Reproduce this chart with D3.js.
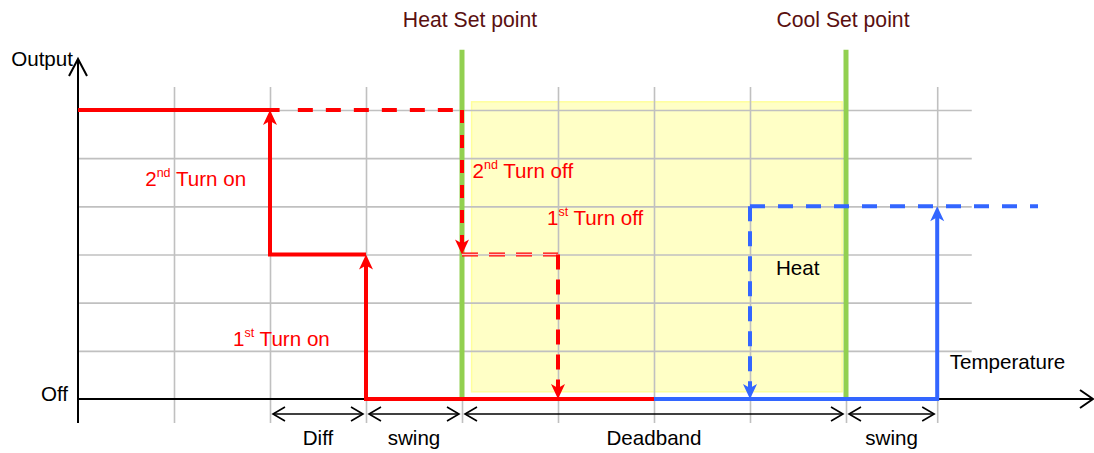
<!DOCTYPE html>
<html>
<head>
<meta charset="utf-8">
<script src="https://cdn.jsdelivr.net/npm/d3@7"></script>
<style>
body { margin: 0; background: #fff; }
text { font-family: "Liberation Sans", Arial, sans-serif; font-size: 20.6px; }
</style>
</head>
<body>
<script>

// grid positions along temperature (x) and output level (y)
var tempTicks = [1, 2, 3, 4, 5, 6, 7, 8, 8.95];
var levelTicks = [1, 2, 3, 4, 5, 6];

var setPoints = [{name: "Heat Set point", t: 4}, {name: "Cool Set point", t: 8}];
var deadband = [4.1, 7.96, 0.15, 6.17]; // t0, t1, level0, level1

// heat stages (red)
var heatFull = [[0, 6], [2.1, 6]];
var heatOn2nd = [[3, 3], [2, 3], [2, 6]];
var heatOn1st = [[6, 0], [3, 0], [3, 3]];
var heatHold2nd = [[2.29, 6], [4, 6]];
var heatOff2nd = [[4, 6], [4, 3]];
var heatHold1st = [[4, 3], [5, 3]];
var heatOff1st = [[5, 3], [5, 0]];

// cool stage (blue)
var coolOn = [[6, 0], [8.95, 0], [8.95, 4]];
var coolHold = [[7, 4], [10, 4]];
var coolOff = [[7, 4], [7, 0]];

// dimension spans under the axis
var spans = [
    {label: "Diff", a: 2, b: 3},
    {label: "swing", a: 3, b: 4},
    {label: "Deadband", a: 4, b: 8},
    {label: "swing", a: 8, b: 8.95}
];

var width = 1094, height = 453;
var RED = "#ff0000", BLUE = "#3366ff", GREEN = "#92d050";

var svg = d3.select("body").append("svg")
    .attr("width", width)
    .attr("height", height);

svg.append("rect").attr("width", width).attr("height", height).attr("fill", "#fff");

var x = d3.scaleLinear().domain([0, 10]).range([78, 1038]);
var y = d3.scaleLinear().domain([0, 6]).range([399, 110]);

// yellow deadband zone
svg.append("rect")
    .attr("x", x(deadband[0]))
    .attr("y", y(deadband[3]))
    .attr("width", x(deadband[1]) - x(deadband[0]))
    .attr("height", y(deadband[2]) - y(deadband[3]))
    .attr("fill", "#ffffc6")
    .attr("stroke", "#ffff9c")
    .attr("stroke-width", 1.5);

// grid: vertical lines
var gx = svg.append("g")
    .attr("transform", "translate(0," + y(-0.5) + ")")
    .call(d3.axisTop(x).tickValues(tempTicks).tickSize(y(-0.5) - y(6.48)).tickFormat(""));
// grid: horizontal lines
var gy = svg.append("g")
    .attr("transform", "translate(" + x(0) + ",0)")
    .call(d3.axisRight(y).tickValues(levelTicks).tickSize(x(9.31) - x(0)).tickFormat(""));
svg.selectAll(".domain").remove();
svg.selectAll(".tick line").attr("stroke", "#c0c0c0").attr("stroke-width", 1.6);

// axes
svg.append("line")
    .attr("x1", x(0)).attr("x2", 1093)
    .attr("y1", y(0)).attr("y2", y(0))
    .attr("stroke", "#000").attr("stroke-width", 2);
svg.append("line")
    .attr("x1", x(0)).attr("x2", x(0))
    .attr("y1", y(-0.5)).attr("y2", 59)
    .attr("stroke", "#000").attr("stroke-width", 2);
svg.append("path")
    .attr("d", "M" + (x(0) - 9) + ",76L" + x(0) + ",59L" + (x(0) + 9) + ",76")
    .attr("fill", "none").attr("stroke", "#000").attr("stroke-width", 2);
svg.append("path")
    .attr("d", "M1080," + (y(0) - 9) + "L1093," + y(0) + "L1080," + (y(0) + 9))
    .attr("fill", "none").attr("stroke", "#000").attr("stroke-width", 2);

// set point lines
svg.selectAll(".setp").data(setPoints).enter().append("line")
    .attr("x1", function (d) { return x(d.t); })
    .attr("x2", function (d) { return x(d.t); })
    .attr("y1", y(7.25))
    .attr("y2", y(0))
    .attr("stroke", GREEN)
    .attr("stroke-width", 5);

svg.selectAll(".setlab").data(setPoints).enter().append("text")
    .attr("x", function (d, i) { return x(d.t) + (i === 0 ? 8 : -3); })
    .attr("y", 27)
    .attr("text-anchor", "middle")
    .attr("fill", "#5a1010")
    .style("font-size", "21.2px")
    .text(function (d) { return d.name; });

// draws a step path in pixel space, optionally with an arrow head on the last point
function step(pts, color, dash, arrow) {
    var p = pts.map(function (d) { return [x(d[0]), y(d[1])]; });
    var n = p.length;
    var tip = p[n - 1].slice();
    if (arrow) {
        var dx = p[n - 1][0] - p[n - 2][0], dy = p[n - 1][1] - p[n - 2][1];
        var len = Math.sqrt(dx * dx + dy * dy);
        p[n - 1] = [tip[0] - dx / len * 9, tip[1] - dy / len * 9];
    }
    svg.append("path")
        .attr("d", d3.line()(p))
        .attr("fill", "none")
        .attr("stroke", color)
        .attr("stroke-width", 4)
        .attr("stroke-dasharray", dash || null)
        .attr("stroke-linejoin", "miter");
    if (arrow) {
        var ang = Math.atan2(tip[1] - p[n - 2][1], tip[0] - p[n - 2][0]) * 180 / Math.PI;
        svg.append("path")
            .attr("d", "M0,0L-15,-7L-11,0L-15,7Z")
            .attr("transform", "translate(" + tip[0] + "," + tip[1] + ") rotate(" + ang + ")")
            .attr("fill", color);
    }
}

step(heatFull, RED);
step(heatOn2nd, RED, null, true);
step(heatOn1st, RED, null, true);
step(heatHold2nd, RED, "15,13");
step(heatOff2nd, RED, "13,12", true);
step(heatHold1st, RED, "16,11");
svg.append("path")
    .attr("d", d3.line()(heatHold1st.map(function (d) { return [x(d[0]), y(d[1])]; })))
    .attr("stroke", "#ffc8c8").attr("stroke-width", 1.4).attr("stroke-dasharray", "16,11");
step(heatOff1st, RED, "15,10", true);

step(coolOn, BLUE, null, true);
step(coolHold, BLUE, "15,13");
step(coolOff, BLUE, "15,10", true);

// red annotations with superscripts
function label(tx, lv, big, sup, rest, color) {
    var t = svg.append("text").attr("x", x(tx)).attr("y", y(lv)).attr("fill", color);
    t.append("tspan").text(big);
    t.append("tspan").attr("font-size", "12.5px").attr("dy", -9).text(sup);
    t.append("tspan").attr("dy", 9).text(" " + rest);
}
label(0.70, 4.42, "2", "nd", "Turn on", RED);
label(4.11, 4.59, "2", "nd", "Turn off", RED);
label(4.885, 3.61, "1", "st", "Turn off", RED);
label(1.615, 1.10, "1", "st", "Turn on", RED);

svg.append("text").attr("x", x(7.27)).attr("y", y(2.57)).text("Heat");
svg.append("text").attr("x", x(9.08)).attr("y", y(0.62)).text("Temperature");
svg.append("text").attr("x", 73).attr("y", 66).attr("text-anchor", "end").text("Output");
svg.append("text").attr("x", 68).attr("y", 401).attr("text-anchor", "end").text("Off");

// dimension arrows
var dim = svg.selectAll(".dim").data(spans).enter().append("g");
dim.append("line")
    .attr("x1", function (d) { return x(d.a) + 3; })
    .attr("x2", function (d) { return x(d.b) - 3; })
    .attr("y1", 414).attr("y2", 414)
    .attr("stroke", "#000").attr("stroke-width", 1.6);
dim.append("path")
    .attr("d", function (d) {
        var a = x(d.a) + 3, b = x(d.b) - 3;
        return "M" + (a + 12) + ",407L" + a + ",414L" + (a + 12) + ",421" +
            "M" + (b - 12) + ",407L" + b + ",414L" + (b - 12) + ",421";
    })
    .attr("fill", "none").attr("stroke", "#000").attr("stroke-width", 1.6);
dim.append("text")
    .attr("x", function (d) { return (x(d.a) + x(d.b)) / 2; })
    .attr("y", 445)
    .attr("text-anchor", "middle")
    .text(function (d) { return d.label; });

</script>
</body>
</html>
